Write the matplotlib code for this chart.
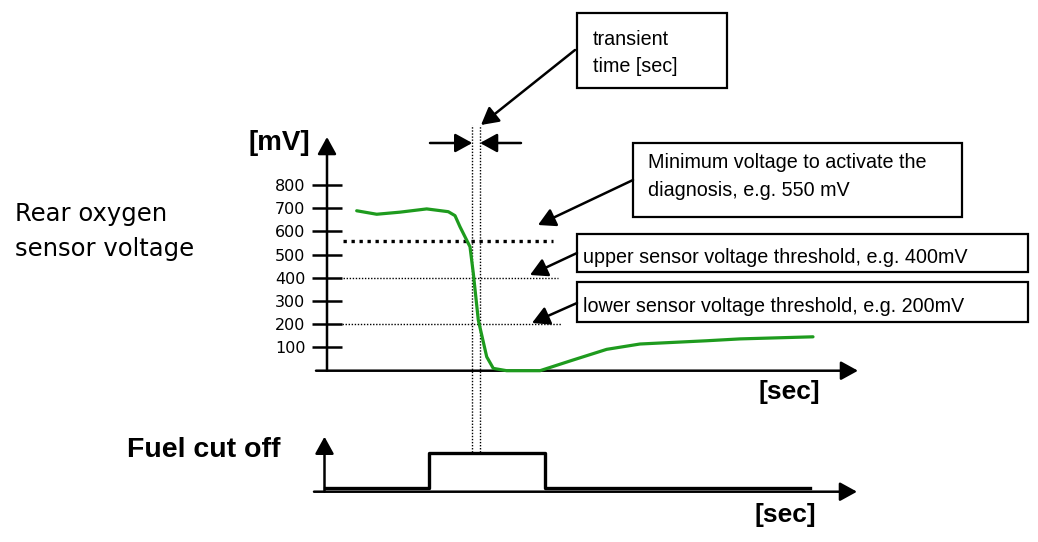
"""
Rear oxygen sensor voltage during fuel cut off - schematic diagram
"""

import matplotlib
matplotlib.use("Agg")
import matplotlib.pyplot as plt
from matplotlib.patches import Rectangle

# Данные: напряжение датчика (мВ) во времени (с)
sensor_t = [0.594, 0.994, 1.46, 1.994, 2.426, 2.56, 2.66, 2.86, 2.926, 3.026,
            3.194, 3.326, 3.594, 4.26, 4.92, 5.594, 6.26, 7.594, 8.26, 9.72]
sensor_mv = [689, 674, 683, 697, 685, 668, 620, 534, 420, 218,
             60, 10, 0, 0, 46, 92, 115, 129, 137, 146]

mv_ticks = [100, 200, 300, 400, 500, 600, 700, 800]

# Пороги (мВ)
diag_threshold = 560
upper_threshold = 400
lower_threshold = 200

# Переходное время (границы, с)
transient_start = 2.906
transient_end = 3.06

# Отсечка топлива (ступенчатый сигнал)
fuel_t = [-0.05, 2.03, 2.03, 4.35, 4.35, 9.66]
fuel_level = [0.06, 0.06, 0.70, 0.70, 0.06, 0.06]

W, H = 1038, 542
PX_PER_MV = (370.7 - 185) / 800
PX_PER_SEC = 50.0
T0_PX = 327


def fig_rect(x0, y0, x1, y1):
    """Пиксели (от верхнего левого угла) -> доли фигуры"""
    return [x0 / W, 1 - y1 / H, (x1 - x0) / W, (y1 - y0) / H]


def arrow(ax, start, tip, lw=1.8, scale=26, coords="data"):
    ax.annotate("", xy=tip, xytext=start, xycoords=coords, textcoords=coords,
                arrowprops=dict(arrowstyle="-|>,head_length=0.4,head_width=0.22",
                                mutation_scale=scale, lw=lw, color="black",
                                shrinkA=0, shrinkB=0),
                annotation_clip=False)


fig = plt.figure(figsize=(W / 100, H / 100), dpi=100)

# Слой для подписей и рамок (в пикселях)
overlay = fig.add_axes([0, 0, 1, 1])
overlay.set_xlim(0, W)
overlay.set_ylim(H, 0)
overlay.axis("off")

# Верхний график: напряжение датчика
ax1 = fig.add_axes(fig_rect(316, 137, 858, 370.7))
ax1.patch.set_visible(False)
ax1.set_xlim((316 - T0_PX) / PX_PER_SEC, (858 - T0_PX) / PX_PER_SEC)
ymax = (370.7 - 137) / PX_PER_MV
ax1.set_ylim(0, ymax)
for s in ax1.spines.values():
    s.set_visible(False)
ax1.spines["left"].set_position(("data", 0))
ax1.set_xticks([])
ax1.set_yticks(mv_ticks)
ax1.tick_params(axis="y", direction="inout", length=21, width=1.8, pad=5,
                labelsize=11.5)

arrow(ax1, (ax1.get_xlim()[0], 0), (ax1.get_xlim()[1], 0))
arrow(ax1, (0, 0), (0, ymax))

ax1.plot(sensor_t, sensor_mv, color="#1e9b1e", lw=2.3, solid_capstyle="round",
         solid_joinstyle="round", clip_on=False, zorder=3)

ax1.hlines(diag_threshold, 0.32, 4.52, color="black", lw=2.4,
           linestyles=(0, (1, 1.4)))
ax1.hlines(upper_threshold, 0.26, 4.62, color="black", lw=1.0,
           linestyles=(0, (1, 1.2)))
ax1.hlines(lower_threshold, 0.30, 4.68, color="black", lw=1.0,
           linestyles=(0, (1, 1.2)))

# Вертикальные границы переходного времени (через оба графика)
y_top = (370.7 - 125) / PX_PER_MV
y_bot = (370.7 - 452) / PX_PER_MV
ax1.vlines([transient_start, transient_end], y_bot, y_top, color="black",
           lw=1.0, linestyles=(0, (1, 1.2)), clip_on=False)

y_dbl = (370.7 - 143) / PX_PER_MV
arrow(ax1, ((430 - T0_PX) / PX_PER_SEC, y_dbl), (transient_start, y_dbl))
arrow(ax1, ((521 - T0_PX) / PX_PER_SEC, y_dbl), (transient_end, y_dbl))

# Нижний график: отсечка топлива
ax2 = fig.add_axes(fig_rect(314, 436.7, 857, 491.7))
ax2.patch.set_visible(False)
ax2.set_xlim((314 - T0_PX) / PX_PER_SEC, (857 - T0_PX) / PX_PER_SEC)
ax2.set_ylim(0, 1)
ax2.axis("off")
arrow(ax2, (ax2.get_xlim()[0], 0), (ax2.get_xlim()[1], 0))
arrow(ax2, (-0.05, 0), (-0.05, 1))
ax2.plot(fuel_t, fuel_level, color="black", lw=2.4, clip_on=False)

# Подписи
overlay.text(15, 221, "Rear oxygen", fontsize=17.5, va="baseline", ha="left")
overlay.text(15, 256, "sensor voltage", fontsize=17.5, va="baseline", ha="left")

bold = dict(family="Liberation Sans", weight="bold", color="black")
overlay.text(279, 143, "[mV]", fontsize=20, ha="center", va="center", **bold)
overlay.text(789, 391.5, "[sec]", fontsize=19, ha="center", va="center", **bold)
overlay.text(785, 515, "[sec]", fontsize=19, ha="center", va="center", **bold)
overlay.text(127, 456.7, "Fuel cut off", fontsize=20.5, ha="left",
             va="baseline", **bold)

box_font = dict(family="Liberation Sans", fontsize=14.2, va="baseline", ha="left")

boxes = [
    (576.7, 13.3, 726.7, 88.3),
    (633, 143.3, 961.7, 217.3),
    (576.7, 234, 1028, 271.7),
    (576.7, 281.7, 1028, 321.7),
]
for x0, y0, x1, y1 in boxes:
    overlay.add_patch(Rectangle((x0, y0), x1 - x0, y1 - y0, fill=True,
                                facecolor="white", edgecolor="black", lw=1.6))

overlay.text(593, 45, "transient", **box_font)
overlay.text(593, 71.7, "time [sec]", **box_font)
overlay.text(648, 168.3, "Minimum voltage to activate the", **box_font)
overlay.text(648, 196, "diagnosis, e.g. 550 mV", **box_font)
overlay.text(583, 263.3, "upper sensor voltage threshold, e.g. 400mV", **box_font)
overlay.text(583, 311.7, "lower sensor voltage threshold, e.g. 200mV", **box_font)

arrow(overlay, (575, 50), (481, 125))
arrow(overlay, (633, 180), (538, 225))
arrow(overlay, (577, 253), (530, 275))
arrow(overlay, (577, 303), (532, 323))

fig.savefig("out.png", dpi=100)
